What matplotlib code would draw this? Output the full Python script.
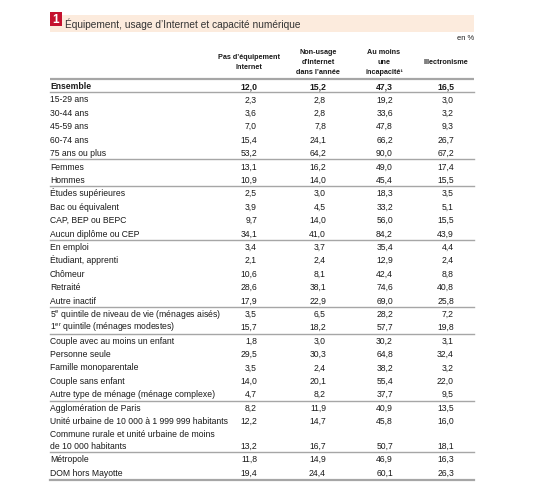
import matplotlib.pyplot as plt
from matplotlib.patches import Rectangle

plt.rcParams['font.family'] = ['Liberation Sans', 'DejaVu Sans']
plt.rcParams['mathtext.fontset'] = 'custom'
plt.rcParams['mathtext.rm'] = 'Liberation Sans'

title = "Équipement, usage d’Internet et capacité numérique"
unit = "en %"
columns = ["Pas d’équipement\nInternet", "Non-usage\nd’Internet\ndans l’année",
           "Au moins\nune\nincapacité¹", "Illectronisme"]

# groups of rows (label, values)
groups = [
    [("Ensemble", [12.0, 15.2, 47.3, 16.5]),
     ("15-29 ans", [2.3, 2.8, 19.2, 3.0]),
     ("30-44 ans", [3.6, 2.8, 33.6, 3.2]),
     ("45-59 ans", [7.0, 7.8, 47.8, 9.3]),
     ("60-74 ans", [15.4, 24.1, 66.2, 26.7]),
     ("75 ans ou plus", [53.2, 64.2, 90.0, 67.2])],
    [("Femmes", [13.1, 16.2, 49.0, 17.4]),
     ("Hommes", [10.9, 14.0, 45.4, 15.5])],
    [("Études supérieures", [2.5, 3.0, 18.3, 3.5]),
     ("Bac ou équivalent", [3.9, 4.5, 33.2, 5.1]),
     ("CAP, BEP ou BEPC", [9.7, 14.0, 56.0, 15.5]),
     ("Aucun diplôme ou CEP", [34.1, 41.0, 84.2, 43.9])],
    [("En emploi", [3.4, 3.7, 35.4, 4.4]),
     ("Étudiant, apprenti", [2.1, 2.4, 12.9, 2.4]),
     ("Chômeur", [10.6, 8.1, 42.4, 8.8]),
     ("Retraité", [28.6, 38.1, 74.6, 40.8]),
     ("Autre inactif", [17.9, 22.9, 69.0, 25.8])],
    [(r"5$^{\rm e}$ quintile de niveau de vie (ménages aisés)", [3.5, 6.5, 28.2, 7.2]),
     (r"1$^{\rm er}$ quintile (ménages modestes)", [15.7, 18.2, 57.7, 19.8])],
    [("Couple avec au moins un enfant", [1.8, 3.0, 30.2, 3.1]),
     ("Personne seule", [29.5, 30.3, 64.8, 32.4]),
     ("Famille monoparentale", [3.5, 2.4, 38.2, 3.2]),
     ("Couple sans enfant", [14.0, 20.1, 55.4, 22.0]),
     ("Autre type de ménage (ménage complexe)", [4.7, 8.2, 37.7, 9.5])],
    [("Agglomération de Paris", [8.2, 11.9, 40.9, 13.5]),
     ("Unité urbaine de 10 000 à 1 999 999 habitants", [12.2, 14.7, 45.8, 16.0]),
     ("Commune rurale et unité urbaine de moins\nde 10 000 habitants", [13.2, 16.7, 50.7, 18.1])],
    [("Métropole", [11.8, 14.9, 46.9, 16.3]),
     ("DOM hors Mayotte", [19.4, 24.4, 60.1, 26.3])],
]

fig = plt.figure(figsize=(5.35, 5.0), dpi=100)
ax = fig.add_axes([0, 0, 1, 1])
ax.set_xlim(0, 535)
ax.set_ylim(500, 0)
ax.axis('off')

txt = '#1a1a1a'
line_col = '#a6a6a6'
fs = 6.2
base = 3.1  # offset from row centre to text baseline
left, right = 50, 474
col_x = [257, 326, 393, 454]
head_x = [249, 318, 384, 446]

# title band
ax.add_patch(Rectangle((left, 15), right - left, 16.7, color='#fcebdd', lw=0))
ax.add_patch(Rectangle((49.5, 11.7), 12.3, 14.3, color='#c4122f', lw=0))
ax.text(55.6, 23.2, "1", color='white', fontsize=8.5, fontweight='bold', ha='center', va='baseline')
ax.text(65, 27.8, title, fontsize=7.3, color='#333333', ha='left', va='baseline')
ax.text(right, 40.5, unit, fontsize=5.4, color=txt, ha='right', va='baseline')

for hx, h in zip(head_x, columns):
    ax.text(hx, 62.7, h, fontsize=5.2, fontweight='bold', color=txt, ha='center', va='center',
            linespacing=1.6)

ax.plot([left, right], [79, 79], color=line_col, lw=1.6, solid_capstyle='butt')

step = 13.4
y = 86
for gi, g in enumerate(groups):
    for ri, (label, vals) in enumerate(g):
        bold = 'bold' if (gi == 0 and ri == 0) else 'normal'
        parts = label.split('\n')
        for k, part in enumerate(parts):
            ax.text(left, y + k * (step - 2.1) + base, part, fontsize=fs, color=txt,
                    ha='left', va='baseline', fontweight=bold)
        ylast = y + (len(parts) - 1) * (step - 2.1)
        for cx, v in zip(col_x, vals):
            ax.text(cx, ylast + base, f"{v:.1f}".replace('.', ','), fontsize=fs, color=txt,
                    ha='right', va='baseline', fontweight=bold)
        y = ylast + step
        if gi == 0 and ri == 0:
            ax.plot([left, right], [y - step / 2 - 0.3] * 2, color=line_col, lw=1.0)
    if gi < len(groups) - 1:
        ax.plot([left, right], [y - step / 2 - 0.3] * 2, color=line_col, lw=1.0)

ax.plot([left, right], [y - step / 2 + 1.3] * 2, color=line_col, lw=1.6)

fig.savefig("out.png", dpi=100)
